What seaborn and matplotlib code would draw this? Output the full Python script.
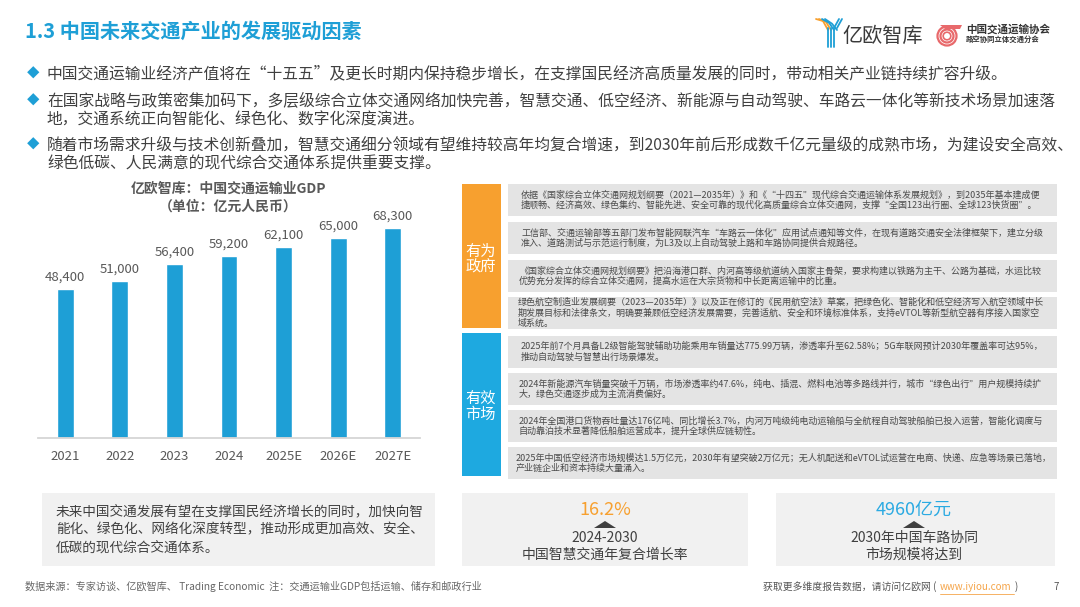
import matplotlib
matplotlib.use("Agg")
import matplotlib.pyplot as plt
import seaborn as sns
import pandas as pd
from matplotlib.patches import Rectangle, Polygon, Ellipse
from matplotlib.lines import Line2D

# ---------------- data ----------------
years = ["2021", "2022", "2023", "2024", "2025E", "2026E", "2027E"]
gdp = [48400, 51000, 56400, 59200, 62100, 65000, 68300]

title = "1.3 中国未来交通产业的发展驱动因素"
bullets = [
    "中国交通运输业经济产值将在“十五五”及更长时期内保持稳步增长，在支撑国民经济高质量发展的同时，带动相关产业链持续扩容升级。",
    "在国家战略与政策密集加码下，多层级综合立体交通网络加快完善，智慧交通、低空经济、新能源与自动驾驶、车路云一体化等新技术场景加速落\n地，交通系统正向智能化、绿色化、数字化深度演进。",
    "随着市场需求升级与技术创新叠加，智慧交通细分领域有望维持较高年均复合增速，到2030年前后形成数千亿元量级的成熟市场，为建设安全高效、\n绿色低碳、人民满意的现代综合交通体系提供重要支撑。",
]
chart_title = "亿欧智库：中国交通运输业GDP\n（单位：亿元人民币）"

gov_label = "有为\n政府"
gov_items = [
    "依据《国家综合立体交通网规划纲要（2021—2035年）》和《“十四五”现代综合交通运输体系发展规划》，到2035年基本建成便\n捷顺畅、经济高效、绿色集约、智能先进、安全可靠的现代化高质量综合立体交通网，支撑“全国123出行圈、全球123快货圈”。",
    "工信部、交通运输部等五部门发布智能网联汽车“车路云一体化”应用试点通知等文件，在现有道路交通安全法律框架下，建立分级\n准入、道路测试与示范运行制度，为L3及以上自动驾驶上路和车路协同提供合规路径。",
    "《国家综合立体交通网规划纲要》把沿海港口群、内河高等级航道纳入国家主骨架，要求构建以铁路为主干、公路为基础，水运比较\n优势充分发挥的综合立体交通网，提高水运在大宗货物和中长距离运输中的比重。",
    "绿色航空制造业发展纲要（2023—2035年）》以及正在修订的《民用航空法》草案，把绿色化、智能化和低空经济写入航空领域中长\n期发展目标和法律条文，明确要兼顾低空经济发展需要，完善适航、安全和环境标准体系，支持eVTOL等新型航空器有序接入国家空\n域系统。",
]
mkt_label = "有效\n市场"
mkt_items = [
    "2025年前7个月具备L2级智能驾驶辅助功能乘用车销量达775.99万辆，渗透率升至62.58%；5G车联网预计2030年覆盖率可达95%，\n推动自动驾驶与智慧出行场景爆发。",
    "2024年新能源汽车销量突破千万辆，市场渗透率约47.6%，纯电、插混、燃料电池等多路线并行，城市“绿色出行”用户规模持续扩\n大，绿色交通逐步成为主流消费偏好。",
    "2024年全国港口货物吞吐量达176亿吨、同比增长3.7%，内河万吨级纯电动运输船与全航程自动驾驶船舶已投入运营，智能化调度与\n自动靠泊技术显著降低船舶运营成本，提升全球供应链韧性。",
    "2025年中国低空经济市场规模达1.5万亿元，2030年有望突破2万亿元；无人机配送和eVTOL试运营在电商、快递、应急等场景已落地，\n产业链企业和资本持续大量涌入。",
]
summary = "未来中国交通发展有望在支撑国民经济增长的同时，加快向智\n能化、绿色化、网络化深度转型，推动形成更加高效、安全、\n低碳的现代综合交通体系。"
kpi1_value = "16.2%"
kpi1_text = "2024-2030\n中国智慧交通年复合增长率"
kpi2_value = "4960亿元"
kpi2_text = "2030年中国车路协同\n市场规模将达到"
source = "数据来源：专家访谈、亿欧智库、 Trading Economic  注：交通运输业GDP包括运输、储存和邮政行业"
footer = "获取更多维度报告数据，请访问亿欧网 ("
url = "www.iyiou.com"
page = "7"

# ---------------- style ----------------
sns.set_style("white")
plt.rcParams["font.family"] = ["Noto Sans CJK SC", "DejaVu Sans"]

BLUE = "#1E9FD6"
ORANGE = "#F7A02F"
GRAY_T = "#595959"
DARK = "#404040"

W, H = 1080, 607
fig = plt.figure(figsize=(10.8, 6.07), dpi=100)
fig.patch.set_facecolor("white")

def fx(x):
    return x / W

def fy(y):
    return 1 - y / H

def txt(x, y, s, **kw):
    kw.setdefault("va", "center")
    kw.setdefault("ha", "left")
    return fig.text(fx(x), fy(y), s, **kw)

def rect(x0, y0, x1, y1, color):
    fig.add_artist(Rectangle((fx(x0), fy(y1)), fx(x1) - fx(x0), fy(y0) - fy(y1),
                             transform=fig.transFigure, facecolor=color,
                             edgecolor="none", zorder=0))

# title
txt(25, 31, title, fontsize=14.5, fontweight="bold", color=BLUE)

# bullets
bullet_y = [74, 101, 145]
for yb, s in zip(bullet_y, bullets):
    txt(33, yb, "◆", fontsize=9, color=BLUE, ha="center")
    for i, ln in enumerate(s.split("\n")):
        txt(47, yb + i * 19.5, ln, fontsize=11.35, color=DARK)

# ---------------- logos ----------------
for i, c in enumerate(["#F7A02F", "#F7A02F", "#1E9FD6", "#1E9FD6"]):
    off = i * 3.0
    fig.add_artist(Line2D([fx(816 + off), fx(823 + off), fx(828 + off)],
                          [fy(19), fy(21 + off * 0.3), fy(30)],
                          transform=fig.transFigure, color=c, lw=1.3))
for i in range(3):
    fig.add_artist(Line2D([fx(828 + i * 3.0), fx(828 + i * 3.0)], [fy(28), fy(47)],
                          transform=fig.transFigure, color="#1E9FD6", lw=1.3))
for i in range(2):
    fig.add_artist(Line2D([fx(834 + i * 3.0), fx(839 + i * 3.0)], [fy(28), fy(19)],
                          transform=fig.transFigure, color="#1E9FD6", lw=1.3))
txt(842, 36, "亿欧智库", fontsize=14.5, color="#3A3A3A")
for r, lw in [(9.5, 1.6), (6.5, 1.6), (3.8, 1.2)]:
    fig.add_artist(Ellipse((fx(947), fy(36)), 2 * r / W, 2 * r / H, transform=fig.transFigure,
                           facecolor="none", edgecolor="#E8696B", lw=lw))
fig.add_artist(Polygon([(fx(940), fy(25)), (fx(962), fy(25)), (fx(960), fy(29)), (fx(945), fy(29))],
                       closed=True, transform=fig.transFigure, facecolor="#E8696B",
                       edgecolor="none"))
txt(966, 29, "中国交通运输协会", fontsize=7.6, fontweight="bold", color="#333333")
txt(966, 39, "路空协同立体交通分会", fontsize=5.3, fontweight="bold", color="#333333")

# ---------------- bar chart ----------------
ax = fig.add_axes([fx(38), fy(438), fx(420) - fx(38), (438 - 200) / H])
df = pd.DataFrame({"year": years, "gdp": gdp})
sns.barplot(data=df, x="year", y="gdp", color=BLUE, saturation=1, width=0.31, ax=ax)
ax.set_xlim(-0.5, len(years) - 0.5)
ax.set_ylim(0, 77350)
ax.bar_label(ax.containers[0], labels=[f"{v:,}" for v in gdp], padding=4,
             fontsize=9.5, color=GRAY_T)
for sp in ["top", "left", "right"]:
    ax.spines[sp].set_visible(False)
ax.spines["bottom"].set_color("#D6D6D6")
ax.spines["bottom"].set_linewidth(1.3)
ax.set_yticks([])
ax.set_xlabel("")
ax.set_ylabel("")
ax.tick_params(axis="x", length=0, pad=9, labelsize=9.5, labelcolor=GRAY_T)
ax.set_facecolor("none")
cl = chart_title.split("\n")
txt(228, 189, cl[0], fontsize=10, fontweight="bold", color=GRAY_T, ha="center")
txt(228, 207, cl[1], fontsize=10, fontweight="bold", color=GRAY_T, ha="center")

# ---------------- right panel ----------------
rect(462, 184, 501, 328, ORANGE)
rect(462, 333, 501, 476, "#1EA9E0")
for i, ln in enumerate(gov_label.split("\n")):
    txt(481, 251 + i * 16, ln, fontsize=11, color="white", ha="center")
for i, ln in enumerate(mkt_label.split("\n")):
    txt(481, 398 + i * 16, ln, fontsize=11, color="white", ha="center")

gov_rows = [(184, 216), (222, 254), (260, 292), (297, 329)]
mkt_rows = [(336, 368), (373, 405), (410, 442), (447, 479)]
gov_x = [521, 521, 519, 518]
mkt_x = [521, 519, 519, 516]
for (y0, y1), xs, s in zip(gov_rows + mkt_rows, gov_x + mkt_x, gov_items + mkt_items):
    rect(508, y0, 1057, y1, "#E4E4E4")
    lines = s.split("\n")
    n = len(lines)
    yc = (y0 + y1) / 2
    for i, ln in enumerate(lines):
        txt(xs, yc + (i - (n - 1) / 2) * 10.6, ln, fontsize=6.5, color="#4A4A4A")

# ---------------- bottom boxes ----------------
rect(42, 493, 435, 566, "#F1F1F1")
for i, ln in enumerate(summary.split("\n")):
    txt(56, 511 + i * 18.5, ln, fontsize=9.8, color=DARK)

rect(462, 493, 748, 566, "#F1F1F1")
rect(776, 493, 1055, 566, "#F1F1F1")
for xc, val, col, lab in [(605, kpi1_value, ORANGE, kpi1_text),
                          (914, kpi2_value, "#2BAAE2", kpi2_text)]:
    txt(xc, 510, val, fontsize=13, color=col, ha="center")
    fig.add_artist(Polygon([(fx(xc - 11), fy(528)), (fx(xc + 11), fy(528)), (fx(xc), fy(521))],
                           closed=True, transform=fig.transFigure, facecolor="#404040",
                           edgecolor="none"))
    l = lab.split("\n")
    txt(xc, 538, l[0], fontsize=10, color=DARK, ha="center")
    txt(xc, 555, l[1], fontsize=10, color=DARK, ha="center")

# ---------------- footer ----------------
txt(25, 587, source, fontsize=7.3, color="#666666")
txt(763, 587, footer, fontsize=7.1, color="#555555")
txt(940, 587, url, fontsize=7.1, color="#F5A54A")
fig.add_artist(Line2D([fx(940), fx(1014)], [fy(593.5), fy(593.5)], transform=fig.transFigure,
                      color="#F5A54A", lw=0.6))
txt(1015, 587, ")", fontsize=7.1, color="#555555")
txt(1056, 587, page, fontsize=7, color="#555555", ha="center")

fig.savefig("out.png", dpi=100)
